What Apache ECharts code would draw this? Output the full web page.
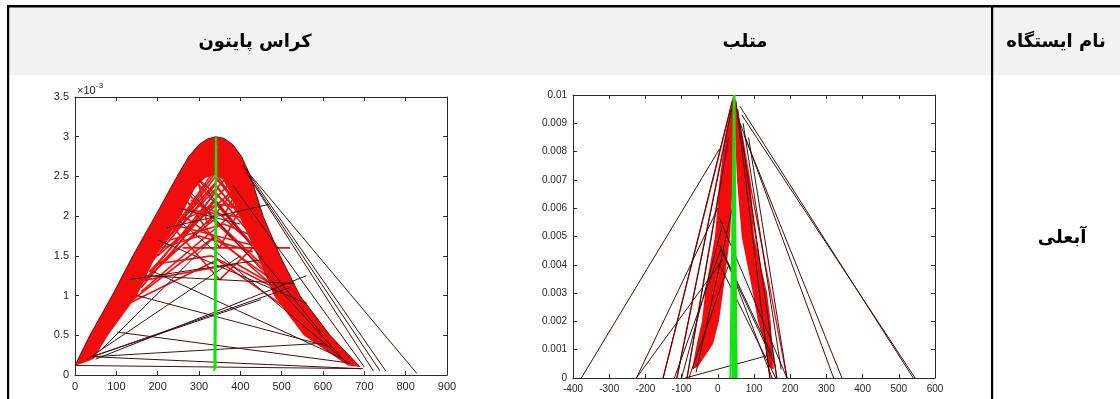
<!DOCTYPE html>
<html>
<head>
<meta charset="utf-8">
<script src="https://cdn.jsdelivr.net/npm/echarts@6/dist/echarts.min.js"></script>
<style>
  html, body { margin: 0; background: #fff; }
  #chart { width: 1120px; height: 399px; }
</style>
</head>
<body>
<div id="chart"></div>
<script>
// headers
const headers = ['کراس پایتون', 'متلب', 'نام ایستگاه']
const stationName = 'آبعلی'

// left panel (python keras), y in units of 1e-3
const pyBandOuter = [[0, 0.12], [36, 0.5], [90, 1.0], [140, 1.5], [194, 2.0], [247, 2.5], [275, 2.75], [300, 2.9], [320, 2.97], [340, 3.0], [360, 2.98], [382, 2.9], [403, 2.75], [425, 2.5], [455, 2.0], [496, 1.5], [544, 1.0], [617, 0.5], [690, 0.1]]
const pyBandInner = [[20, 0.15], [45, 0.2], [80, 0.5], [150, 1.0], [196, 1.5], [256, 2.0], [290, 2.35], [315, 2.48], [338, 2.52], [358, 2.46], [375, 2.3], [397, 2.0], [442, 1.5], [481, 1.0], [553, 0.5], [660, 0.12]]
const pyRedLines = [
  [[200, 1.55], [340, 2.55], [470, 1.5]],
  [[230, 1.5], [345, 2.35], [450, 1.75]],
  [[160, 1.1], [340, 2.2], [500, 1.2]],
  [[250, 1.9], [345, 2.45], [430, 2.0]],
  [[180, 1.3], [335, 1.95], [520, 1.0]],
  [[140, 0.95], [340, 1.75], [540, 0.85]],
  [[270, 2.2], [350, 1.6], [420, 2.3]],
  [[230, 1.9], [350, 1.2], [470, 1.8]],
  [[250, 2.1], [450, 1.95]],
  [[260, 1.6], [520, 1.6]],
  [[120, 1.15], [390, 1.4], [560, 0.9]],
  [[290, 2.5], [380, 2.1], [410, 2.6]],
  [[170, 1.2], [340, 2.3], [500, 1.3]],
  [[190, 1.45], [340, 2.4], [460, 1.6]],
  [[215, 1.65], [340, 2.5], [440, 1.8]],
  [[240, 1.85], [340, 2.6], [420, 2.05]],
  [[160, 1.15], [345, 2.05], [480, 1.4]],
  [[200, 1.4], [330, 1.5], [520, 1.0]],
  [[230, 1.7], [360, 1.9], [455, 1.7]],
  [[260, 1.95], [345, 2.15], [410, 2.1]],
  [[130, 0.9], [345, 1.45], [550, 0.7]],
  [[280, 2.2], [360, 2.0], [400, 2.4]],
  [[270, 2.3], [500, 1.15]],
  [[290, 2.45], [470, 1.4]],
  [[250, 2.05], [530, 1.0]],
  [[230, 1.9], [456, 1.6]],
  [[380, 2.45], [180, 1.3]],
  [[400, 2.4], [200, 1.5]],
  [[420, 2.2], [160, 1.05]],
  [[370, 2.5], [230, 1.75]],
  [[300, 2.4], [320, 1.9], [390, 2.35]],
  [[210, 1.6], [300, 1.75], [430, 1.55]]
]
const pyDarkLines = [
  [[0, 0.12], [697, 0.08]],
  [[41, 0.23], [690, 0.08]],
  [[41, 0.23], [600, 0.4]],
  [[102, 0.54], [665, 0.15]],
  [[41, 0.23], [450, 0.95]],
  [[41, 0.23], [520, 1.1]],
  [[50, 0.2], [560, 1.25]],
  [[30, 0.2], [400, 1.5]],
  [[60, 0.3], [340, 1.75]],
  [[170, 1.25], [530, 1.15]],
  [[150, 1.0], [620, 0.35]],
  [[190, 1.3], [650, 0.2]],
  [[250, 1.95], [660, 0.15]],
  [[280, 2.3], [640, 0.25]],
  [[300, 2.45], [600, 0.5]],
  [[411, 2.6], [827, 0.02]],
  [[405, 2.65], [752, 0.05]],
  [[415, 2.55], [738, 0.05]],
  [[420, 2.5], [722, 0.05]],
  [[380, 2.4], [700, 0.1]],
  [[200, 1.7], [560, 0.9]],
  [[130, 1.2], [450, 1.45]],
  [[250, 2.1], [400, 1.9]],
  [[220, 1.85], [470, 2.15]]
]
const pyGreen = [[[341, 3.0], [337, 0.05]], [[342, 2.9], [340, 0.08]]]

// right panel (matlab)
const mlLeftOuter = [[45, 0.01], [20, 0.0085], [6, 0.0071], [-8, 0.005], [-35, 0.003], [-44, 0.002], [-58, 0.0012], [-71, 0.0003]]
const mlLeftInner = [[-55, 0.0004], [-13, 0.0012], [3, 0.002], [14, 0.003], [34, 0.005], [42, 0.0071], [45, 0.0085]]
const mlRightOuter = [[45, 0.01], [70, 0.0085], [90, 0.007], [100, 0.005], [136, 0.003], [146, 0.002], [152, 0.0008], [155, 0.0003]]
const mlRightInner = [[140, 0.0004], [130, 0.0012], [111, 0.002], [97, 0.003], [66, 0.005], [53, 0.007], [48, 0.0085]]
const mlRedLines = [
  [[45, 0.01], [-151, 0]],
  [[45, 0.01], [-113, 0]],
  [[42, 0.0095], [-85, 0]],
  [[45, 0.01], [144, 0]],
  [[48, 0.0098], [163, 0]],
  [[50, 0.0095], [191, 0]]
]
const mlDarkLines = [
  [[5, 0.0081], [-377, 0]],
  [[0, 0.006], [-225, 0]],
  [[15, 0.0042], [-225, 0]],
  [[61, 0.0096], [540, 0]],
  [[66, 0.0093], [545, 0]],
  [[62, 0.009], [320, 0]],
  [[72, 0.0086], [343, 0]],
  [[3, 0.0057], [191, 0]],
  [[85, 0.0085], [191, 0]],
  [[70, 0.009], [175, 0.0003]],
  [[10, 0.0045], [160, 0.0004]],
  [[-90, 0], [140, 0.0008]],
  [[-151, 0], [40, 0.0098]],
  [[-113, 0], [38, 0.0095]],
  [[-85, 0], [30, 0.0085]],
  [[-100, 0], [15, 0.0055]],
  [[-120, 0], [10, 0.0046]],
  [[-80, 0], [30, 0.004]],
  [[144, 0], [50, 0.0098]],
  [[163, 0], [55, 0.0095]],
  [[150, 0], [15, 0.0045]],
  [[160, 0], [5, 0.004]],
  [[5, 0.0047], [150, 0.0008]],
  [[-60, 0.0002], [40, 0.006]]
]
const mlGreen = [[[45, 0.01], [35, 0]], [[45, 0.01], [42, 0]], [[45, 0.01], [48, 0]], [[45, 0.01], [52, 0]]]

const RED = '#f20d0d'
const DARK = '#3a1212'
const GREEN = '#12e012'
const AXIS = '#2b2b2b'
const FONT = 'Liberation Sans'

const chart = echarts.init(document.getElementById('chart'))

function axis(gridIndex, position, min, max, interval, showLabel, fmt, fontSize, margin) {
  return {
    type: 'value',
    gridIndex,
    position,
    min,
    max,
    interval,
    axisLine: { show: true, onZero: false, lineStyle: { color: AXIS, width: 1 } },
    axisTick: { show: true, inside: true, length: 4, lineStyle: { color: AXIS } },
    axisLabel: { show: showLabel, color: '#262626', fontFamily: FONT, fontSize, margin, formatter: fmt },
    splitLine: { show: false }
  }
}

function lines(paths, xi, yi, color, width, z) {
  return paths.map((p) => ({
    type: 'line',
    xAxisIndex: xi,
    yAxisIndex: yi,
    data: p,
    symbol: 'none',
    silent: true,
    z,
    lineStyle: { color, width }
  }))
}

function polygon(points, xi, yi, color, z) {
  return {
    type: 'custom',
    xAxisIndex: xi,
    yAxisIndex: yi,
    silent: true,
    z,
    data: [[points[0][0], points[0][1]]],
    renderItem: (params, api) => ({
      type: 'polygon',
      shape: { points: points.map((p) => api.coord(p)) },
      style: { fill: color }
    })
  }
}

const mlFmt = (v) => String(+v.toFixed(3))

const series = [
  polygon(pyBandOuter.concat(pyBandInner.slice().reverse()), 0, 0, RED, 1),
  ...lines(pyRedLines, 0, 0, RED, 1.6, 2),
  ...lines(pyDarkLines, 0, 0, DARK, 1, 3),
  ...lines([pyBandOuter], 0, 0, '#6a0808', 1, 3),
  ...lines(pyGreen, 0, 0, GREEN, 2, 4),
  polygon(mlLeftOuter.concat(mlLeftInner), 2, 2, RED, 1),
  polygon(mlRightOuter.concat(mlRightInner), 2, 2, RED, 1),
  ...lines(mlRedLines, 2, 2, RED, 1.3, 2),
  ...lines(mlDarkLines, 2, 2, DARK, 1, 3),
  ...lines(mlGreen, 2, 2, GREEN, 2.2, 4)
]

const titleFont = 'bold 18px "DejaVu Sans"'

chart.setOption({
  animation: false,
  grid: [
    { left: 75, top: 97, width: 372, height: 278 },
    { left: 573, top: 95, width: 362, height: 283 }
  ],
  xAxis: [
    axis(0, 'bottom', 0, 900, 100, true, null, 11, 6),
    axis(0, 'top', 0, 900, 100, false, null, 11, 6),
    axis(1, 'bottom', -400, 600, 100, true, null, 10, 6),
    axis(1, 'top', -400, 600, 100, false, null, 10, 6)
  ],
  yAxis: [
    axis(0, 'left', 0, 3.5, 0.5, true, null, 11, 6),
    axis(0, 'right', 0, 3.5, 0.5, false, null, 11, 6),
    axis(1, 'left', 0, 0.01, 0.001, true, mlFmt, 10, 6),
    axis(1, 'right', 0, 0.01, 0.001, false, mlFmt, 10, 6)
  ],
  graphic: [
    { type: 'rect', z: -10, shape: { x: 9, y: 7, width: 1111, height: 68 }, style: { fill: '#f2f2f2' } },
    { type: 'rect', z: 10, shape: { x: 7, y: 5, width: 1113, height: 2.5 }, style: { fill: '#000' } },
    { type: 'rect', z: 10, shape: { x: 7, y: 5, width: 2.2, height: 394 }, style: { fill: '#000' } },
    { type: 'rect', z: 10, shape: { x: 991, y: 5, width: 2.2, height: 394 }, style: { fill: '#000' } },
    { type: 'text', z: 10, x: 255, y: 42, style: { text: headers[0], fill: '#000', font: titleFont, align: 'center', verticalAlign: 'middle' } },
    { type: 'text', z: 10, x: 745, y: 42, style: { text: headers[1], fill: '#000', font: titleFont, align: 'center', verticalAlign: 'middle' } },
    { type: 'text', z: 10, x: 1056, y: 42, style: { text: headers[2], fill: '#000', font: titleFont, align: 'center', verticalAlign: 'middle' } },
    { type: 'text', z: 10, x: 1062, y: 238, style: { text: stationName, fill: '#000', font: titleFont, align: 'center', verticalAlign: 'middle' } },
    { type: 'text', z: 10, x: 77, y: 91, style: { text: '×10', fill: '#262626', font: '11px "Liberation Sans"', align: 'left', verticalAlign: 'middle' } },
    { type: 'text', z: 10, x: 96, y: 86, style: { text: '-3', fill: '#262626', font: '8px "Liberation Sans"', align: 'left', verticalAlign: 'middle' } }
  ],
  series
})
</script>
</body>
</html>
